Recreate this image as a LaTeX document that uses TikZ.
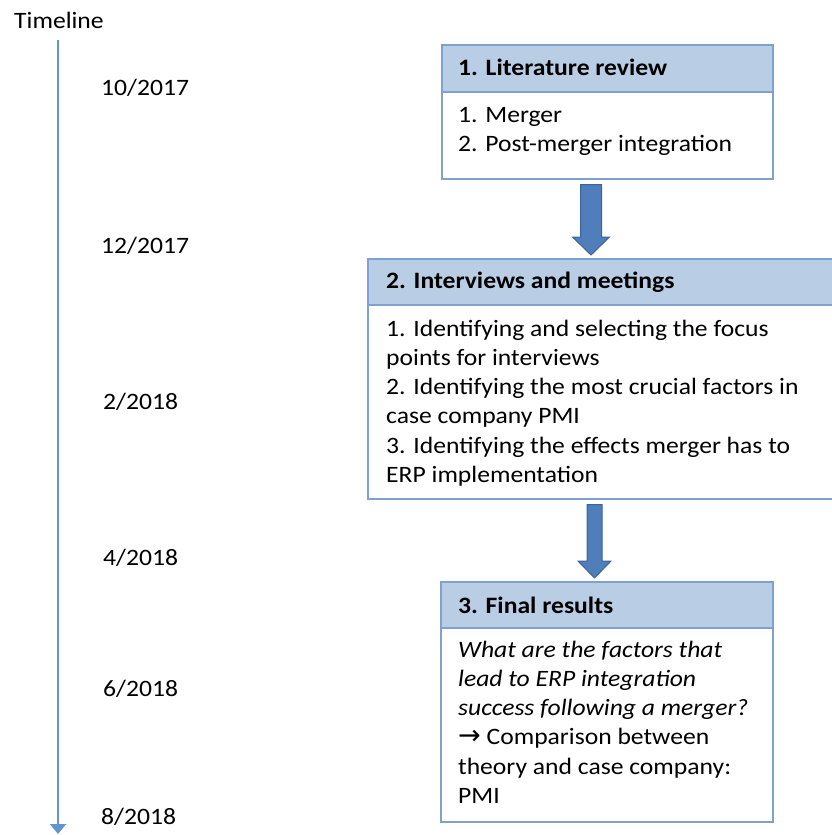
\documentclass[tikz,border=0pt]{standalone}
\usepackage{fontspec}
\setmainfont{Carlito}[FakeStretch=1.09]
\newfontfamily\arrowfont{DejaVu Sans}[Scale=1.15]
\usetikzlibrary{calc,arrows.meta}
\definecolor{hdrfill}{HTML}{B9CDE5}
\definecolor{boxline}{HTML}{7EA1D0}
\definecolor{arrowfill}{HTML}{4F7EBB}
\definecolor{arrowline}{HTML}{3A6399}
\definecolor{tlcolor}{HTML}{5F95D3}

% block arrow from the bottom of one box to the top of the next, at a given x
\newcommand\blockarrow[6]{%
  \draw[blockarrowstyle] let \p1=(#1.south), \p2=(#2.north) in
    ({#3pt-#4pt},{\y1-5pt}) -- ({#3pt+#4pt},{\y1-5pt}) --
    ({#3pt+#4pt},{\y2+3pt+#6pt}) -- ({#3pt+#5pt},{\y2+3pt+#6pt}) --
    (#3pt,{\y2+3pt}) --
    ({#3pt-#5pt},{\y2+3pt+#6pt}) -- ({#3pt-#4pt},{\y2+3pt+#6pt}) -- cycle;}

\begin{document}
\begin{tikzpicture}[x=1pt,y=-1pt,
  txt/.style={inner sep=0pt, anchor=base west, font=\fontsize{23.5}{29.3}\selectfont, align=left},
  hdr/.style={draw=boxline, line width=1.5pt, fill=hdrfill, anchor=north west, inner sep=0pt},
  bodybox/.style={draw=boxline, line width=1.5pt, fill=white, anchor=north west, inner sep=0pt},
  blockarrowstyle/.style={fill=arrowfill, draw=arrowline, line width=1pt, line join=miter},
  tline/.style={draw=tlcolor, line width=2pt, -{Triangle[width=16pt,length=10pt]}}]
\useasboundingbox (0,0) rectangle (832,835);
\clip (0,0) rectangle (832,835);

% timeline
\node[txt] (tl) at (14,28) {Timeline};
\coordinate (tltop) at (58,40);
\coordinate (tlend) at (58,834);
\draw[tline] (tltop) -- (tlend);

\node[txt] (d1) at (101,95) {10/2017};
\node[txt] (d2) at (101,253) {12/2017};
\node[txt] (d3) at (103,409) {2/2018};
\node[txt] (d4) at (103,565) {4/2018};
\node[txt] (d5) at (103,696) {6/2018};
\node[txt] (d6) at (101,824) {8/2018};

% box 1 (multi-line texts are placed by the baseline of their last line)
\node[bodybox, minimum width=331pt, minimum height=87pt] (b1) at (441,91) {};
\node[hdr, minimum width=331pt, minimum height=47pt] (h1) at (441,44) {};
\node[txt] (t1h) at (458,75) {\bfseries 1. Literature review};
\node[txt] (t1b) at (458,151.3) {1. Merger\\2. Post-merger integration};

% box 2
\node[bodybox, minimum width=483pt, minimum height=194pt] (b2) at (367,304) {};
\node[hdr, minimum width=483pt, minimum height=46pt] (h2) at (367,258) {};
\node[txt] (t2h) at (386,288) {\bfseries 2. Interviews and meetings};
\node[txt] (t2b) at (386,482.5) {1. Identifying and selecting the focus\\points for interviews\\2. Identifying the most crucial factors in\\case company PMI\\3. Identifying the effects merger has to\\ERP implementation};

% box 3
\node[bodybox, minimum width=332pt, minimum height=194pt] (b3) at (440,627) {};
\node[hdr, minimum width=332pt, minimum height=46pt] (h3) at (440,581) {};
\node[txt] (t3h) at (458,613) {\bfseries 3. Final results};
\node[txt] (t3b) at (458,803.5) {\itshape What are the factors that\\\itshape lead to ERP integration\\\itshape success following a merger?\\{\arrowfont →} Comparison between\\theory and case company:\\PMI};

% arrows between the steps
\blockarrow{b1}{h2}{591}{10.5}{18.5}{18}
\blockarrow{b2}{h3}{594.5}{7.5}{16.5}{17}
\end{tikzpicture}
\end{document}
